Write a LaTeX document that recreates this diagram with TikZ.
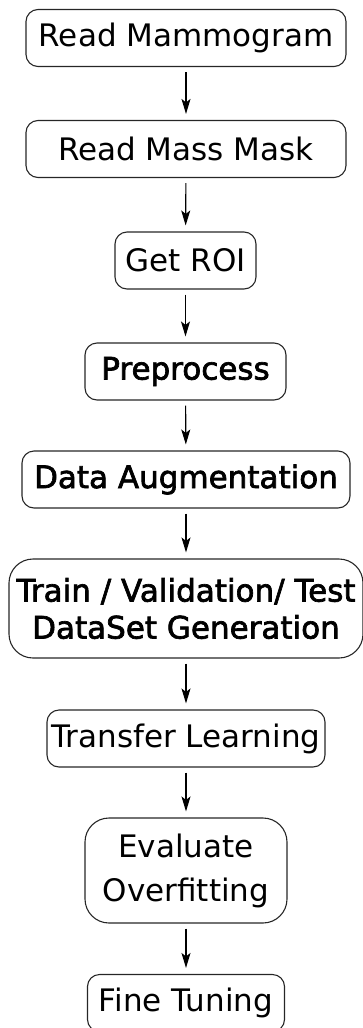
\documentclass[tikz,border=0pt]{standalone}
\usepackage{fontspec}
\setmainfont{DejaVu Sans}
\newfontfamily\heavyfont[FakeBold=2.2]{DejaVu Sans}
\usetikzlibrary{arrows.meta}
\pgfdeclarelayer{edgelayer}
\pgfdeclarelayer{nodelayer}
\pgfsetlayers{edgelayer,nodelayer,main}
\tikzset{font=\fontsize{31}{37}\selectfont}
\tikzstyle{block}=[draw=black!85,line width=1.1pt,rounded corners=12pt,inner sep=0pt,minimum height=57pt,align=center]
\tikzstyle{big block}=[block,rounded corners=24pt]
\tikzstyle{flow}=[line width=1.1pt,-{Stealth[length=15pt,width=9pt,inset=3.5pt]},shorten <=5pt,shorten >=6pt]

\begin{document}
\begin{tikzpicture}[x=1pt,y=-1pt]
	\useasboundingbox (0,0) rectangle (362,1028);
	\begin{pgfonlayer}{nodelayer}
		\node [style=block,minimum width=320pt] (0) at (186, 38) {Read Mammogram};
		\node [style=block,minimum width=320pt] (1) at (186, 149) {Read Mass Mask};
		\node [style=block,minimum width=141pt] (2) at (185.5, 260.5) {Get ROI};
		\node [style=block,minimum width=201pt] (3) at (185.5, 371.5) {\heavyfont Preprocess};
		\node [style=block,minimum width=328pt] (4) at (186, 479.5) {\heavyfont Data Augmentation};
		\node [style=big block,minimum width=354pt,minimum height=99pt] (5) at (186, 608.5) {\heavyfont Train / Validation/ Test\\\heavyfont DataSet Generation};
		\node [style=block,minimum width=278pt] (6) at (186, 738.5) {Transfer Learning};
		\node [style=big block,minimum width=202pt,minimum height=105pt,font=\fontsize{31}{44}\selectfont] (7) at (186, 870.5) {Evaluate\\Overfitting};
		\node [style=block,minimum width=197pt] (8) at (186, 1003) {Fine Tuning};
	\end{pgfonlayer}
	\begin{pgfonlayer}{edgelayer}
		\draw [style=flow] (0) to (1);
		\draw [style=flow] (1) to (2);
		\draw [style=flow] (2) to (3);
		\draw [style=flow] (3) to (4);
		\draw [style=flow] (4) to (5);
		\draw [style=flow] (5) to (6);
		\draw [style=flow] (6) to (7);
		\draw [style=flow] (7) to (8);
	\end{pgfonlayer}
\end{tikzpicture}
\end{document}
